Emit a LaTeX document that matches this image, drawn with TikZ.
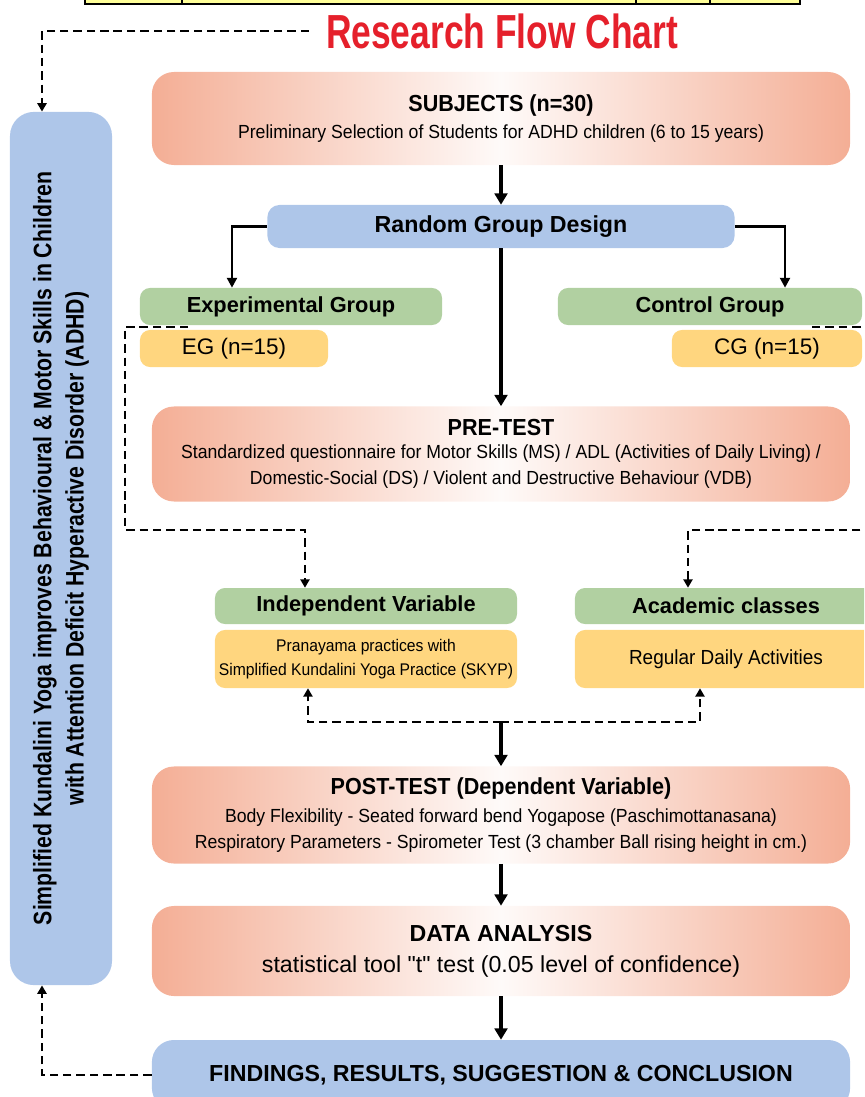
\documentclass[tikz,border=0pt]{standalone}
\usepackage{fontspec}
\setmainfont{Liberation Sans}
\newfontfamily\bodyfam[FakeStretch=0.93]{Liberation Sans}
\newfontfamily\condfont[FakeStretch=0.74]{Liberation Sans}
\newfontfamily\sidefam[FakeStretch=0.84]{Liberation Sans}
\usetikzlibrary{arrows.meta, positioning, calc}

\definecolor{salmon}{HTML}{F4AE95}
\definecolor{boxblue}{HTML}{AEC6E9}
\definecolor{boxgreen}{HTML}{B1D0A1}
\definecolor{boxyellow}{HTML}{FFD67F}
\definecolor{titlered}{HTML}{E5202B}
\definecolor{tableyellow}{HTML}{FFFF99}

\newcommand{\titlefont}{\condfont\bfseries\fontsize{34}{38}\selectfont}
\newcommand{\sidefont}{\sidefam\bfseries\fontsize{18}{23}\selectfont}
\newcommand{\headfont}{\bfseries\fontsize{16.5}{19}\selectfont}
\newcommand{\bodyfont}{\bodyfam\fontsize{13.5}{18.5}\selectfont}
\newcommand{\labfont}{\bfseries\fontsize{15.5}{18}\selectfont}
\newcommand{\straightquote}{\XeTeXglyph\the\XeTeXcharglyph"22\relax}

\begin{document}
\begin{tikzpicture}[x=0.025cm, y=-0.025cm,
  stage/.style={rounded corners=0.55cm, left color=salmon, right color=salmon,
    middle color=salmon!6, minimum width=17.45cm, inner sep=0pt, align=center,
    font=\bodyfont},
  bluebox/.style={rounded corners=0.3cm, fill=boxblue, inner sep=0pt, align=center},
  greenbox/.style={rounded corners=0.25cm, fill=boxgreen, minimum height=0.925cm,
    inner sep=0pt, font=\labfont},
  yellowbox/.style={rounded corners=0.25cm, fill=boxyellow, inner sep=0pt, align=center},
  flow/.style={line width=2.6pt, -{Triangle[length=8pt,width=9pt]}},
  branch/.style={line width=1.8pt, -{Triangle[length=7pt,width=7pt]}},
  dasharrow/.style={line width=2pt, dash pattern=on 6pt off 3.5pt,
    -{Triangle[length=6pt,width=6.5pt]}},
]
\useasboundingbox (0,0) rectangle (864,1097);
\clip (0,0) rectangle (864,1097);

% Table edge at the top
\fill[tableyellow] (85,-10) rectangle (800,4);
\draw[line width=2pt] (85,-10) -- (85,4) -- (800,4) -- (800,-10);
\foreach \xx in {182,636,710}
  \draw[line width=1.5pt] (\xx,-10) -- (\xx,4);

% Title
\node[font=\titlefont, text=titlered, inner sep=0pt] (title) at (502,31) {Research Flow Chart};

% Side box
\node[bluebox, rotate=90, rounded corners=0.6cm, minimum width=21.825cm,
  minimum height=2.55cm, font=\sidefont] (side) at (61,548.5)
  {Simplified Kundalini Yoga improves Behavioural \& Motor Skills in Children\\
   with Attention Deficit Hyperactive Disorder (ADHD)};

% Main stages
\node[stage, minimum height=2.325cm] (subj) at (501,118.5)
  {{\headfont SUBJECTS (n=30)}\\[1pt]
   Preliminary Selection of Students for ADHD children (6 to 15 years)};
\node[bluebox, minimum width=11.675cm, minimum height=1.075cm, font=\headfont]
  (random) at (501,226.5) {Random Group Design};

\node[greenbox, minimum width=7.55cm] (expg) at (291,306.5) {Experimental Group};
\node[yellowbox, minimum width=4.7cm, minimum height=0.925cm,
  font=\fontsize{16}{18}\selectfont] (eg) at (234,348.5) {EG (n=15)};
\node[greenbox, minimum width=7.6cm] (ctrl) at (710,306.5) {Control Group};
\node[yellowbox, minimum width=4.75cm, minimum height=0.925cm,
  font=\fontsize{16}{18}\selectfont] (cg) at (767,348.5) {CG (n=15)};

\node[stage, minimum height=2.375cm] (pre) at (501,454)
  {{\headfont PRE-TEST}\\[-2pt]
   Standardized questionnaire for Motor Skills (MS) / ADL (Activities of Daily Living) /\\
   Domestic-Social (DS) / Violent and Destructive Behaviour (VDB)};

\node[greenbox, minimum width=7.55cm, minimum height=0.9cm] (indep) at (366,606)
  {Independent Variable};
\node[yellowbox, minimum width=7.55cm, minimum height=1.45cm,
  font=\bodyfam\fontsize{12}{17.5}\selectfont] (prana) at (366,659)
  {Pranayama practices with\\Simplified Kundalini Yoga Practice (SKYP)};
\node[greenbox, minimum width=7.55cm, minimum height=0.9cm] (acad) at (726,606)
  {Academic classes};
\node[yellowbox, minimum width=7.55cm, minimum height=1.45cm,
  font=\bodyfam\fontsize{14.5}{17}\selectfont] (regular) at (726,659)
  {Regular Daily Activities};

\node[stage, minimum height=2.425cm] (post) at (501,815)
  {{\headfont POST-TEST (Dependent Variable)}\\[2pt]
   Body Flexibility - Seated forward bend Yogapose (Paschimottanasana)\\
   Respiratory Parameters - Spirometer Test (3 chamber Ball rising height in cm.)};
\node[stage, minimum height=2.25cm, font=\fontsize{16.5}{20}\selectfont] (data) at (501,951)
  {{\headfont DATA ANALYSIS}\\[2pt]
   statistical tool \straightquote t\straightquote{} test (0.05 level of confidence)};
\node[bluebox, rounded corners=0.55cm, minimum width=17.45cm, minimum height=1.75cm,
  font=\headfont] (find) at (501,1075) {FINDINGS, RESULTS, SUGGESTION \& CONCLUSION};

% Solid connectors
\draw[flow] (subj.south) -- (random.north);
\draw[flow] (random.south) -- (pre.north);
\draw[branch] (random.west) -| ([xshift=-1.475cm]expg.north);
\draw[branch] (random.east) -| ([xshift=1.875cm]ctrl.north);
\coordinate (split) at (501,722);
\draw[flow] (split) -- (post.north);
\draw[flow] (post.south) -- (data.north);
\draw[flow] (data.south) -- (find.north);

% Dashed connectors
\coordinate (egtap) at (188,327);
\coordinate (cgtap) at (812,327);
\draw[dasharrow] ([xshift=-0.42cm]title.west) -| ([xshift=-0.475cm]side.east);
\draw[dasharrow] (egtap) -| (125,530) -| ([xshift=-1.525cm]indep.north);
\draw[dasharrow] (cgtap) -| (875,530) -| ([xshift=-0.95cm]acad.north);
\draw[dasharrow] (split) -| ([xshift=-1.45cm]prana.south);
\draw[dasharrow] (split) -| ([xshift=-0.65cm]regular.south);
\draw[dasharrow] (find.west) -| ([xshift=-0.475cm]side.west);
\end{tikzpicture}
\end{document}
